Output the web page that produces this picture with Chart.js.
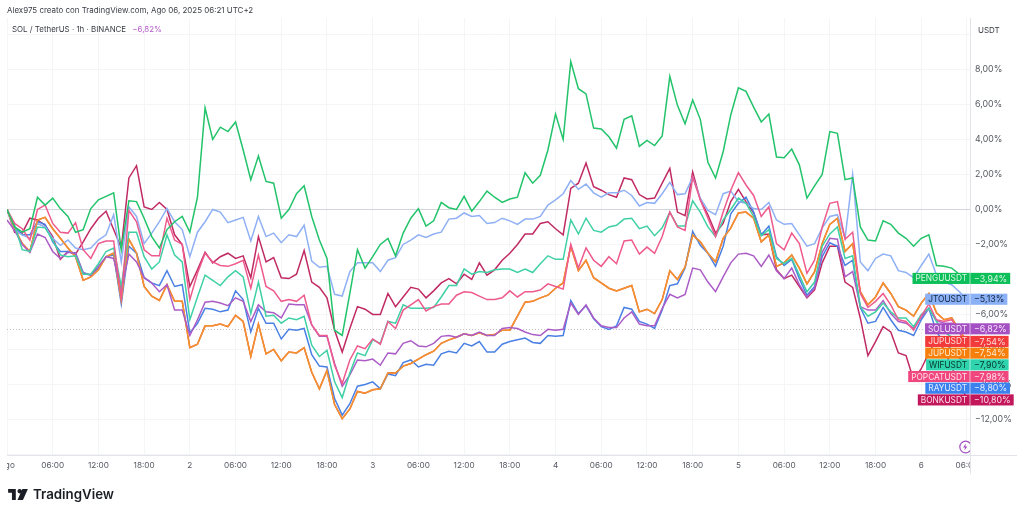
<!DOCTYPE html>
<html>
<head>
<meta charset="utf-8">
<title>SOL / TetherUS</title>
<script src="https://cdn.jsdelivr.net/npm/chart.js@4/dist/chart.umd.min.js"></script>
<style>
  html, body { margin: 0; padding: 0; background: #fff; overflow: hidden; }
  body { width: 1024px; height: 514px; position: relative; font-family: Inter, "Liberation Sans", sans-serif; color: #3a3d45; }
  canvas { position: absolute; left: 7px; top: 0; }
  .txt { position: absolute; white-space: nowrap; }
  #autore { left: 7px; top: 5px; font-size: 7.95px; }
  #titolo { left: 12px; top: 24px; font-size: 7.9px; }
  #titolo span { color: #b45cc9; margin-left: 4px; }
  #valuta { left: 978px; top: 25px; font-size: 8px; }
  #logo { left: 8px; top: 486px; display: flex; align-items: center; gap: 5px; font-size: 13.3px; font-weight: 600; color: #1c1e26; }
  #lampo { position: absolute; left: 958px; top: 440px; }
</style>
</head>
<body>
<canvas id="grafico" width="1017" height="514"></canvas>
<div class="txt" id="autore">Alex975 creato con TradingView.com, Ago 06, 2025 06:21 UTC+2</div>
<div class="txt" id="titolo">SOL / TetherUS · 1h · BINANCE <span>−6,82%</span></div>
<div class="txt" id="valuta">USDT</div>
<div class="txt" id="logo">
  <svg width="20" height="11" viewBox="0 0 36 20"><path fill="#1c1e26" d="M0 0h14v20H7V7H0zM17 4a4 4 0 1 1 0 .01zM26 0h10l-9 20H17z"/></svg>
  TradingView
</div>
<svg id="lampo" width="12" height="14" viewBox="0 0 12 14">
  <circle cx="7.6" cy="7" r="5.8" fill="#fff" stroke="#a34fc4" stroke-width="1.2"/>
  <path fill="#a34fc4" d="M8 3.4 5 7.6h2l-.6 3 3-4.2h-2z"/>
</svg>
<script>
// Etichette asse x, una ogni 6 ore
const xTickLabels = ['Ago', '06:00', '12:00', '18:00', '2', '06:00', '12:00', '18:00', '3', '06:00', '12:00', '18:00',
    '4', '06:00', '12:00', '18:00', '5', '06:00', '12:00', '18:00', '6', '06:00'];

const penguValues = [0, -1.0, -1.3, -1.1, 0.7, 0.25, 0.65, 0.05, -0.4, -1.3,
    -1.15, 0.05, 0.55, 0.75, 0.95, -2.3, 0.5, 0.45, -0.5, -1.55,
    -2.2, -1.15, -0.7, -0.4, -1.3, 0.7, 5.8, 4.0, 4.7, 4.45,
    5.0, 3.4, 1.7, 3.05, 1.6, 1.5, -0.5, 0, 0.9, 1.35,
    -0.4, -1.75, -2.8, -6.9, -7.2, -4.8, -2.3, -3.35, -2.7, -2.0,
    -1.65, -2.65, -1.35, -0.5, 0.05, -0.95, -0.65, 0.4, 0.1, 0,
    0.75, -0.1, 0.45, 1.05, 0.7, 0.4, 0.6, 0.7, 2.1, 1.5,
    1.95, 3.4, 5.45, 4.0, 8.45, 6.9, 6.6, 4.65, 4.6, 4.15,
    3.5, 5.15, 5.35, 3.6, 3.95, 3.65, 4.2, 7.6, 5.95, 4.9,
    6.25, 5.15, 2.7, 1.8, 3.3, 5.4, 6.95, 6.75, 5.85, 5.0,
    5.45, 3.0, 2.95, 3.45, 2.55, 0.65, 1.35, 2.0, 4.45, 4.35,
    1.7, 1.8, -1.0, -1.75, -1.8, -0.65, -0.85, -1.35, -1.65, -2.1,
    -1.65, -1.45, -3.2, -3.25, -3.35, -3.7, -3.94];

const jtoValues = [0, -1.2, -1.45, -1.65, -0.8, -1.0, -1.65, -2.05, -1.75, -2.2,
    -2.3, -2.2, -1.75, -1.45, -0.3, -3.0, 0.15, -0.4, -1.95, -1.35,
    -0.7, 0.05, -0.7, -1.15, -2.7, -1.3, -0.7, 0.0, -0.15, -0.75,
    -0.6, -0.45, -1.8, -0.4, -1.55, -1.35, -1.9, -1.45, -1.55, -0.9,
    -2.95, -3.3, -3.25, -4.85, -4.95, -3.55, -3.05, -3.05, -3.05, -3.55,
    -2.9, -2.75, -2.0, -1.75, -1.45, -1.6, -1.4, -1.3, -0.55, -0.5,
    -0.2, -0.4, -0.35, -0.8, -0.75, -0.5, -0.65, -0.85, -0.55, -0.55,
    -0.4, 0.25, 0.55, 0.9, 1.65, 1.15, 1.45, 0.95, 0.7, 0.95,
    0.95, 1.1, 0.8, 0.2, 0.4, 0.35, 0.9, 1.55, 0.85, 0.9,
    1.85, 0.65, -0.05, -0.3, 0.9, 1.05, 0.45, 0.35, 0.05, 0,
    0.4, -0.6, -0.85, -0.8, -1.45, -2.1, -1.95, -1.05, -0.4, -0.3,
    -1.65, 2.0, -3.0, -3.5, -2.8, -2.55, -2.65, -3.5, -3.6, -3.9,
    -3.2, -2.55, -3.75, -4.15, -4.3, -4.7, -5.13];

const solValues = [-0.6, -1.2, -2.0, -2.45, -1.4, -1.6, -2.4, -2.8, -2.45, -2.5,
    -3.65, -3.75, -3.25, -2.7, -2.8, -4.6, -2.55, -3.0, -3.9, -4.2,
    -4.7, -4.3, -5.75, -5.75, -7.2, -6.3, -5.3, -5.25, -5.35, -5.5,
    -5.05, -5.25, -6.4, -5.45, -5.85, -5.9, -6.2, -5.4, -5.45, -5.45,
    -6.6, -7.25, -7.25, -8.8, -10.1, -9.45, -8.6, -8.65, -8.55, -8.9,
    -8.2, -8.25, -7.65, -7.5, -7.8, -7.85, -7.65, -7.25, -7.2, -7.3,
    -7.1, -7.2, -7.0, -7.2, -7.2, -6.8, -6.75, -6.8, -7.0, -7.15,
    -7.2, -6.85, -6.9, -6.85, -5.35, -6.0, -5.45, -6.2, -6.65, -6.75,
    -6.75, -6.2, -5.85, -6.55, -6.65, -6.65, -5.65, -4.85, -5.05, -4.85,
    -3.35, -3.45, -4.15, -4.7, -3.85, -3.05, -2.55, -2.5, -2.65, -3.25,
    -2.6, -3.5, -3.95, -3.35, -4.3, -5.0, -4.5, -2.45, -1.65, -1.7,
    -3.85, -3.55, -5.55, -5.75, -5.75, -5.2, -5.95, -6.4, -6.5, -6.8,
    -6.15, -5.65, -6.35, -6.5, -6.5, -6.7, -6.82];

// Le due JUP hanno gli stessi valori, quella rossa resta sotto l'arancione
const jupValues = [0, -1.1, -1.95, -2.4, -0.6, -0.45, -1.1, -1.65, -2.2, -2.7,
    -4.05, -3.85, -3.45, -2.7, -2.5, -5.2, -1.7, -2.5, -4.4, -4.95,
    -5.2, -4.3, -5.25, -5.25, -7.9, -7.7, -6.65, -6.65, -6.55, -6.7,
    -6.05, -6.4, -8.4, -6.55, -8.25, -8.0, -8.65, -8.15, -8.2, -7.9,
    -9.3, -10.25, -9.2, -11.15, -11.95, -11.4, -10.4, -10.5, -10.3, -10.25,
    -9.35, -9.35, -8.95, -8.8, -8.55, -8.3, -8.1, -7.65, -7.45, -7.3,
    -7.1, -7.2, -7.05, -7.2, -7.15, -6.9, -6.9, -6.1, -5.3, -5.25,
    -5.05, -4.9, -4.5, -4.2, -2.1, -3.5, -2.9, -3.9, -4.2, -4.5,
    -4.65, -4.5, -4.35, -5.85, -5.7, -5.95, -5.15, -3.5, -4.0, -3.3,
    -1.45, -1.85, -2.5, -3.0, -1.65, -1.05, -0.2, -0.15, -0.5, -1.85,
    -1.45, -3.25, -3.05, -2.6, -3.35, -4.25, -3.55, -1.95, -0.85, -0.5,
    -2.4, -1.95, -4.7, -5.45, -5.0, -4.2, -4.8, -5.55, -5.75, -6.1,
    -5.35, -4.8, -5.9, -6.3, -6.2, -6.9, -7.54];

const wifValues = [0, -0.9, -2.3, -2.4, -1.0, -1.05, -1.75, -2.6, -2.7, -2.65,
    -3.7, -3.7, -3.1, -2.4, -2.2, -4.4, -1.3, -1.3, -2.7, -3.4,
    -3.0, -1.45, -2.6, -3.0, -6.3, -5.0, -3.75, -4.05, -4.35, -3.85,
    -3.5, -3.85, -5.95, -4.15, -6.1, -6.05, -6.5, -6.2, -6.3, -6.1,
    -7.75, -8.4, -8.05, -9.85, -10.75, -9.35, -8.2, -8.35, -7.45, -7.65,
    -6.4, -6.5, -5.45, -5.65, -5.65, -5.65, -5.6, -5.0, -4.35, -4.35,
    -3.4, -3.7, -3.55, -3.6, -3.45, -3.4, -3.4, -3.6, -3.4, -3.6,
    -3.1, -2.65, -2.85, -2.85, -0.6, -1.4, -0.5, -1.2, -1.3, -1.0,
    -0.9, -0.55, -0.5, -1.1, -0.95, -1.5, -1.05, -0.15, -0.95, -0.95,
    0.5, -0.15, -1.0, -1.55, -0.6, 0, 0.65, 0.35, -0.4, -1.5,
    -1.15, -2.8, -3.1, -2.8, -3.75, -4.7, -4.15, -2.1, -1.4, -1.0,
    -2.8, -2.65, -5.55, -6.1, -5.85, -5.35, -5.85, -6.2, -6.2, -6.7,
    -6.0, -5.65, -6.4, -7.0, -7.3, -7.6, -7.9];

const popcatValues = [0, -0.8, -1.1, -1.75, 0, 0.25, -0.8, -1.3, -1.35, -0.75,
    -2.3, -2.8, -1.95, -1.8, -1.8, -5.05, -0.05, -0.7, -2.3, -2.65,
    -2.65, -0.5, -1.75, -2.0, -5.15, -3.65, -2.5, -3.0, -3.2, -3.25,
    -3.1, -2.9, -4.5, -2.6, -4.4, -4.65, -5.25, -5.15, -5.25, -4.9,
    -6.6, -7.2, -7.2, -8.9, -9.95, -8.6, -7.8, -7.95, -7.4, -7.7,
    -6.4, -6.8, -5.75, -5.45, -5.15, -5.8, -5.55, -5.4, -5.4, -4.9,
    -4.7, -4.75, -4.95, -5.15, -5.15, -5.05, -4.65, -5.0, -4.7, -4.7,
    -4.6, -4.25, -4.4, -4.55, -2.0, -3.35, -2.2, -2.9, -3.25, -2.7,
    -3.1, -1.8, -1.75, -2.55, -2.15, -2.5, -1.55, -0.15, -1.0, -1.2,
    1.85, 0.55, -0.5, -1.55, -0.15, 1.1, 2.1, 1.4, 0.8, -0.4,
    0.15, -1.95, -2.3, -1.35, -1.95, -3.65, -2.9, -1.0, 0.35, 0.45,
    -1.7, -1.3, -4.8, -5.6, -5.25, -4.8, -5.45, -6.3, -6.4, -6.9,
    -6.1, -5.4, -6.3, -6.4, -6.3, -7.0, -7.98];

const rayValues = [0, -1.0, -1.45, -1.45, -0.7, -0.85, -1.85, -2.4, -2.4, -2.5,
    -3.6, -3.75, -3.35, -2.7, -2.6, -5.4, -2.1, -2.5, -3.9, -4.2,
    -4.35, -3.5, -4.4, -4.3, -7.05, -6.5, -5.65, -5.7, -5.85, -5.75,
    -4.65, -5.15, -7.0, -5.65, -6.5, -6.5, -7.4, -6.85, -6.9, -6.8,
    -8.3, -8.95, -9.0, -10.8, -11.75, -11.1, -10.1, -10.0, -9.85, -10.25,
    -9.4, -9.5, -8.75, -8.6, -9.0, -8.85, -8.9, -8.25, -8.1, -8.2,
    -7.65, -7.8, -7.55, -8.15, -8.15, -7.7, -7.55, -7.45, -7.35, -7.6,
    -7.65, -7.2, -7.25, -7.2, -5.2, -5.95, -5.5, -6.25, -6.7, -6.85,
    -6.65, -5.6, -5.7, -6.4, -6.55, -6.8, -5.75, -4.35, -4.25, -3.35,
    -1.25, -2.05, -2.5, -3.25, -2.1, -0.25, 0.35, 0.7, -0.15, -1.45,
    -0.95, -2.7, -3.2, -2.85, -3.95, -4.9, -4.4, -2.7, -1.9, -2.1,
    -3.2, -2.9, -5.6, -6.5, -6.4, -5.6, -6.3, -6.9, -7.0, -7.2,
    -6.3, -5.65, -7.0, -7.6, -8.0, -8.5, -8.8];

const bonkValues = [0, -1.3, -1.35, -0.5, -0.6, -0.9, -1.55, -2.85, -2.4, -2.55,
    -1.85, -1.1, -0.5, -0.1, -1.15, -2.2, 1.8, 2.5, 0.15, 0,
    0.4, 0.0, -1.45, -2.0, -4.4, -3.45, -2.45, -3.05, -2.7, -2.5,
    -2.8, -2.65, -3.9, -1.55, -3.0, -2.75, -3.9, -3.95, -3.7, -2.35,
    -4.15, -4.45, -5.05, -6.9, -8.15, -6.8, -5.55, -5.7, -6.0, -6.0,
    -4.8, -5.55, -5.0, -4.45, -4.55, -5.05, -4.65, -4.2, -3.95, -4.25,
    -3.7, -4.0, -3.05, -3.75, -3.45, -2.9, -2.5, -2.0, -1.4, -1.4,
    -0.8, -0.7, -1.1, -1.45, 1.2, 1.5, 2.65, 1.3, 1.1, 0.85,
    0.7, 1.8, 1.7, 0.85, 0.6, 0.65, 1.5, 2.35, -0.15, -0.35,
    2.15, 0.55, -0.3, -1.35, -0.8, 0.45, 1.15, 0.45, -0.2, -1.45,
    -1.4, -3.45, -3.95, -3.75, -4.4, -5.05, -4.6, -3.05, -2.1, -2.1,
    -4.15, -4.45, -6.2, -8.35, -7.55, -6.7, -7.0, -8.2, -8.35, -9.75,
    -9.1, -8.2, -7.4, -8.0, -9.0, -10.0, -10.8];

// Ordine delle etichette a destra, dall'alto verso il basso
const simboli = ['PENGUUSDT', 'JTOUSDT', 'SOLUSDT', 'JUPUSDT', 'JUPUSDT', 'WIFUSDT', 'POPCATUSDT', 'RAYUSDT', 'BONKUSDT'];
const serie = [penguValues, jtoValues, solValues, jupValues, jupValues, wifValues, popcatValues, rayValues, bonkValues];
const coloriLinea = ['#22c36a', '#8fb0f5', '#ab5cc6', '#f0503c', '#f2932e', '#3fd0a5', '#ee5a8d', '#4a80e4', '#c02a63'];
const coloriTag = ['#0cbf58', '#8ab0f5', '#a450c3', '#f23a3a', '#f57f0a', '#2fd3ad', '#f0477f', '#3b82ee', '#c2185b'];
const testoTag = ['#d8f7e4', '#14233f', '#f6e6fb', '#ffd9d9', '#ffe8cf', '#06362b', '#ffe0ea', '#e3edff', '#ffdbe8'];
// Chi sta sopra viene disegnato per ultimo
const ordineLinee = [3, 8, 7, 1, 4, 2, 5, 6, 0];

const formatoPercento = v => (v < 0 ? '−' : '') + Math.abs(v).toFixed(2).replace('.', ',') + '%';

const colorePiccolo = '#f4f5f7';
const coloreAsse = '#e2e4ea';

// Linea tratteggiata del prezzo, bordi e etichette finali
const extraPlugin = {
    id: 'extra',
    beforeDatasetsDraw(chart) {
        const { ctx, chartArea, scales } = chart;
        const y = Math.round(scales.y.getPixelForValue(solValues[solValues.length - 1])) + 0.5;
        ctx.save();
        ctx.strokeStyle = '#c9c0cc';
        ctx.setLineDash([1, 2]);
        ctx.beginPath();
        ctx.moveTo(chartArea.left, y);
        ctx.lineTo(chartArea.right, y);
        ctx.stroke();
        ctx.restore();
    },
    afterDraw(chart) {
        const { ctx, chartArea, scales } = chart;
        const asse = chartArea.right;
        ctx.save();
        // taglia l'ultima etichetta di tempo sul bordo del grafico
        ctx.fillStyle = '#fff';
        ctx.fillRect(asse, chartArea.bottom + 1, 54, 20);
        ctx.strokeStyle = coloreAsse;
        ctx.beginPath();
        ctx.moveTo(asse + 0.5, chartArea.top);
        ctx.lineTo(asse + 0.5, chartArea.bottom + 19);
        ctx.moveTo(chartArea.left, chartArea.bottom + 0.5);
        ctx.lineTo(asse + 47, chartArea.bottom + 0.5);
        ctx.stroke();

        const altezza = 11.7;
        const fontNome = '8.3px Inter, "Liberation Sans", sans-serif';
        const fontValore = '8.8px Inter, "Liberation Sans", sans-serif';
        let ultimo = -100;
        ctx.textBaseline = 'middle';
        simboli.forEach((nome, i) => {
            const valore = serie[i][serie[i].length - 1];
            const yTag = Math.max(scales.y.getPixelForValue(valore), ultimo + altezza);
            ultimo = yTag;
            ctx.font = fontNome;
            const larghezzaNome = ctx.measureText(nome).width + 6;
            const testoValore = formatoPercento(valore);
            ctx.font = fontValore;
            const larghezzaValore = ctx.measureText(testoValore).width + 7;
            ctx.fillStyle = coloriTag[i];
            ctx.fillRect(asse - larghezzaNome, yTag - altezza / 2 + 0.3, larghezzaNome + larghezzaValore, altezza - 0.6);
            ctx.fillStyle = 'rgba(255,255,255,0.6)';
            ctx.fillRect(asse - 0.5, yTag - altezza / 2 + 0.3, 1, altezza - 0.6);
            ctx.fillStyle = testoTag[i];
            ctx.font = fontNome;
            ctx.textAlign = 'right';
            ctx.fillText(nome, asse - 3, yTag + 0.5);
            ctx.font = fontValore;
            ctx.textAlign = 'left';
            ctx.fillText(testoValore, asse + 4, yTag + 0.5);
        });
        ctx.restore();
    }
};

new Chart(document.getElementById('grafico'), {
    type: 'line',
    plugins: [extraPlugin],
    data: {
        datasets: ordineLinee.map((s, pos) => ({
            label: simboli[s],
            data: serie[s].map((v, i) => ({ x: i, y: v })),
            borderColor: coloriLinea[s],
            borderWidth: 1.5,
            pointRadius: 0,
            tension: 0,
            order: ordineLinee.length - pos
        }))
    },
    options: {
        responsive: false,
        animation: false,
        devicePixelRatio: 1,
        layout: { padding: { top: 18, bottom: 39, left: 0, right: 0 } },
        plugins: { legend: { display: false }, tooltip: { enabled: false } },
        scales: {
            x: {
                type: 'linear',
                min: 0,
                max: 126.4,
                afterFit(scale) { scale.paddingLeft = 0; scale.paddingRight = 0; scale.height = 20; },
                grid: { color: colorePiccolo, drawTicks: false },
                border: { display: false },
                ticks: {
                    stepSize: 6,
                    includeBounds: false,
                    autoSkip: false,
                    maxRotation: 0,
                    padding: 6,
                    color: '#555862',
                    font: { family: 'Inter, "Liberation Sans", sans-serif', size: 8.2 },
                    callback: v => xTickLabels[v / 6]
                }
            },
            y: {
                position: 'right',
                min: -14.03,
                max: 10.94,
                afterFit(scale) { scale.width = 54; scale.paddingTop = 0; scale.paddingBottom = 0; },
                grid: {
                    drawTicks: false,
                    color: ctx => ctx.tick && ctx.tick.value === 0 ? '#d3d4d9' : colorePiccolo
                },
                border: { display: false },
                ticks: {
                    stepSize: 2,
                    includeBounds: false,
                    padding: 5,
                    color: '#555862',
                    font: { family: 'Inter, "Liberation Sans", sans-serif', size: 8.8 },
                    // 10% e -14% non compaiono nell'originale
                    callback: v => (v > 8 || v < -12) ? '' : formatoPercento(v)
                }
            }
        }
    }
});
</script>
</body>
</html>
